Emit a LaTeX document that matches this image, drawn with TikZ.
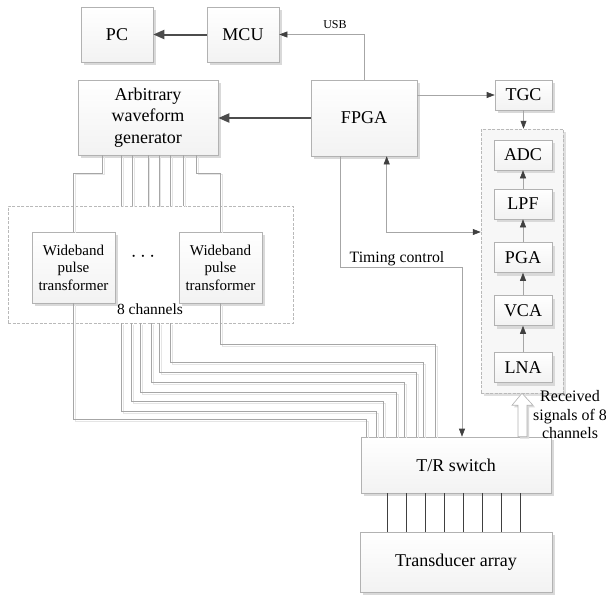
\documentclass[tikz,border=0pt]{standalone}
\usepackage{fontspec}
\setmainfont{Liberation Serif}
\usetikzlibrary{arrows.meta,shadows,calc}
\tikzset{
  box/.style={draw=gray!60, line width=0.6pt, top color=white, bottom color=gray!10,
    drop shadow={shadow xshift=3pt, shadow yshift=-3pt, fill=gray!30, opacity=1},
    inner sep=0pt, align=center, font=\fontsize{18}{21.5}\selectfont},
  smallbox/.style={box, font=\fontsize{15}{17.5}\selectfont},
  dashbox/.style={draw=gray!55, line width=0.5pt, dash pattern=on 3pt off 1.5pt, inner sep=0pt},
  wire/.style={draw=gray!70, line width=0.6pt},
  wsh/.style={wire, preaction={draw=gray!20, line width=0.8pt, transform canvas={xshift=1.5pt, yshift=-1.5pt}}},
  thinarrow/.style={wire, -{Triangle[length=8pt,width=6pt,color=black!75,fill=black!75]}},
  thinboth/.style={wire, {Triangle[length=8pt,width=6pt,color=black!75,fill=black!75]}-{Triangle[length=8pt,width=6pt,color=black!75,fill=black!75]}},
  thickarrow/.style={draw=black!70, line width=2pt, -{Triangle[length=11pt,width=9pt]}},
  darkline/.style={draw=black!75, line width=1pt},
  lbl/.style={inner sep=0pt, align=center}
}
\begin{document}
\begin{tikzpicture}[x=1pt, y=-1pt]
\useasboundingbox (0,0) rectangle (606,595);
% receiver dashed group
\node[dashbox, fill=gray!6, drop shadow={shadow xshift=3pt, shadow yshift=-3pt, fill=gray!25, opacity=1},
  minimum width=82pt, minimum height=264pt] (rx) at (522,261) {};
% 8-channel dashed group
\node[dashbox, minimum width=285pt, minimum height=117pt] (chbox) at (150.5,264.5) {};

% main boxes
\node[box, minimum width=72pt, minimum height=55pt] (pc) at (117,34.5) {PC};
\node[box, minimum width=72pt, minimum height=55pt] (mcu) at (243,34.5) {MCU};
\node[box, minimum width=140pt, minimum height=75pt] (awg) at (148,117.5) {Arbitrary\\waveform\\generator};
\node[box, minimum width=106pt, minimum height=76pt] (fpga) at (364,118) {FPGA};
\node[box, minimum width=57pt, minimum height=30pt] (tgc) at (523.5,95) {TGC};
\node[box, minimum width=58pt, minimum height=30pt] (adc) at (523,155) {ADC};
\node[box, minimum width=58pt, minimum height=30pt] (lpf) at (523,204) {LPF};
\node[box, minimum width=58pt, minimum height=30pt] (pga) at (523,257.5) {PGA};
\node[box, minimum width=58pt, minimum height=30pt] (vca) at (523,310.5) {VCA};
\node[box, minimum width=58pt, minimum height=30pt] (lna) at (523,367.5) {LNA};
\node[smallbox, minimum width=83pt, minimum height=71pt] (wpt1) at (73.5,267.5) {Wideband\\pulse\\transformer};
\node[smallbox, minimum width=83pt, minimum height=71pt] (wpt2) at (220.5,267.5) {Wideband\\pulse\\transformer};
\node[lbl, font=\fontsize{20}{20}\selectfont] (dots) at (143,257) {$\cdots$};
\node[lbl, font=\fontsize{15.5}{18}\selectfont] (chlbl) at (150,309) {8 channels};
\node[box, minimum width=190pt, minimum height=56pt] (trsw) at (456,465) {T/R switch};
\node[box, minimum width=192pt, minimum height=60pt] (trans) at (456,562) {Transducer array};

% hollow arrow: received signals
\coordinate (hb) at (trsw.north -| rx.south);
\draw[draw=gray!60, line width=0.6pt, fill=white, drop shadow={shadow xshift=2pt, shadow yshift=-2pt, fill=gray!30, opacity=1}]
  ($(hb)+(5,0)$) -- ($(rx.south)+(5,12)$) -- ($(rx.south)+(11,12)$) -- (rx.south) --
  ($(rx.south)+(-10,12)$) -- ($(rx.south)+(-4,12)$) -- ($(hb)+(-4,0)$) -- cycle;
\node[lbl, font=\fontsize{16}{18.5}\selectfont] (rxlbl) at (570,415) {Received\\signals of 8\\channels};

% top connections
\draw[thickarrow] (mcu.west) -- (pc.east);
\draw[thinarrow] (fpga.north) |- (mcu.east);
\node[lbl, font=\fontsize{12}{14}\selectfont] (usb) at (335,25) {USB};
\draw[thickarrow] (fpga.west) -- (fpga.west -| awg.east);
\draw[thinarrow] (fpga.east |- tgc.west) -- (tgc.west);
\draw[thinarrow] (tgc.south) -- (tgc.south |- rx.north);

% receive chain
\draw[thinarrow] (lna.north) -- (vca.south);
\draw[thinarrow] (vca.north) -- (pga.south);
\draw[thinarrow] (pga.north) -- (lpf.south);
\draw[thinarrow] (lpf.north) -- (adc.south);

% FPGA <-> receiver
\draw[thinboth] ($(fpga.south west)+(76,0)$) |- ($(rx.west)+(0,-29)$);

% timing control
\draw[thinarrow] ($(fpga.south west)+(30,0)$) |- ($(trsw.north)+(6,-169)$) -- ($(trsw.north)+(6,0)$);
\node[lbl, font=\fontsize{15.8}{18}\selectfont, anchor=south] (tclbl) at (397,266) {Timing control};

% AWG to transformers
\draw[wsh] ($(awg.south west)+(24.7,0)$) -- ++(0,18) -| (wpt1.north);
\draw[wsh] ($(awg.south west)+(118.7,0)$) -- ++(0,18) -| (wpt2.north);
\foreach \dx in {43.7,54.7,70.3,81.3,93,106}{
  \coordinate (ta) at ($(awg.south west)+(\dx,0)$);
  \draw[wsh] (ta) -- (ta |- chbox.north);
}

% transformers / channels to T/R switch
\draw[wsh] (wpt1.south) |- ($(trsw.north west)+(6,-17)$) -- ($(trsw.north west)+(6,0)$);
\draw[wsh] (wpt2.south) |- ($(trsw.north west)+(75,-92)$) -- ($(trsw.north west)+(75,0)$);
\foreach \bx/\tx/\ty in {114/16/25, 124/23/35, 133/36/44, 144/44/54, 152/56/64, 163/63/74}{
  \draw[wsh] ($(chbox.south west)+(\bx,0)$) |- ($(trsw.north west)+(\tx,-\ty)$) -- ($(trsw.north west)+(\tx,0)$);
}

% T/R switch to transducer array
\foreach \k in {0,...,7}{
  \coordinate (tb) at ($(trsw.south west)+(27+19*\k,0)$);
  \draw[darkline] (tb) -- (tb |- trans.north);
}
\end{tikzpicture}
\end{document}
